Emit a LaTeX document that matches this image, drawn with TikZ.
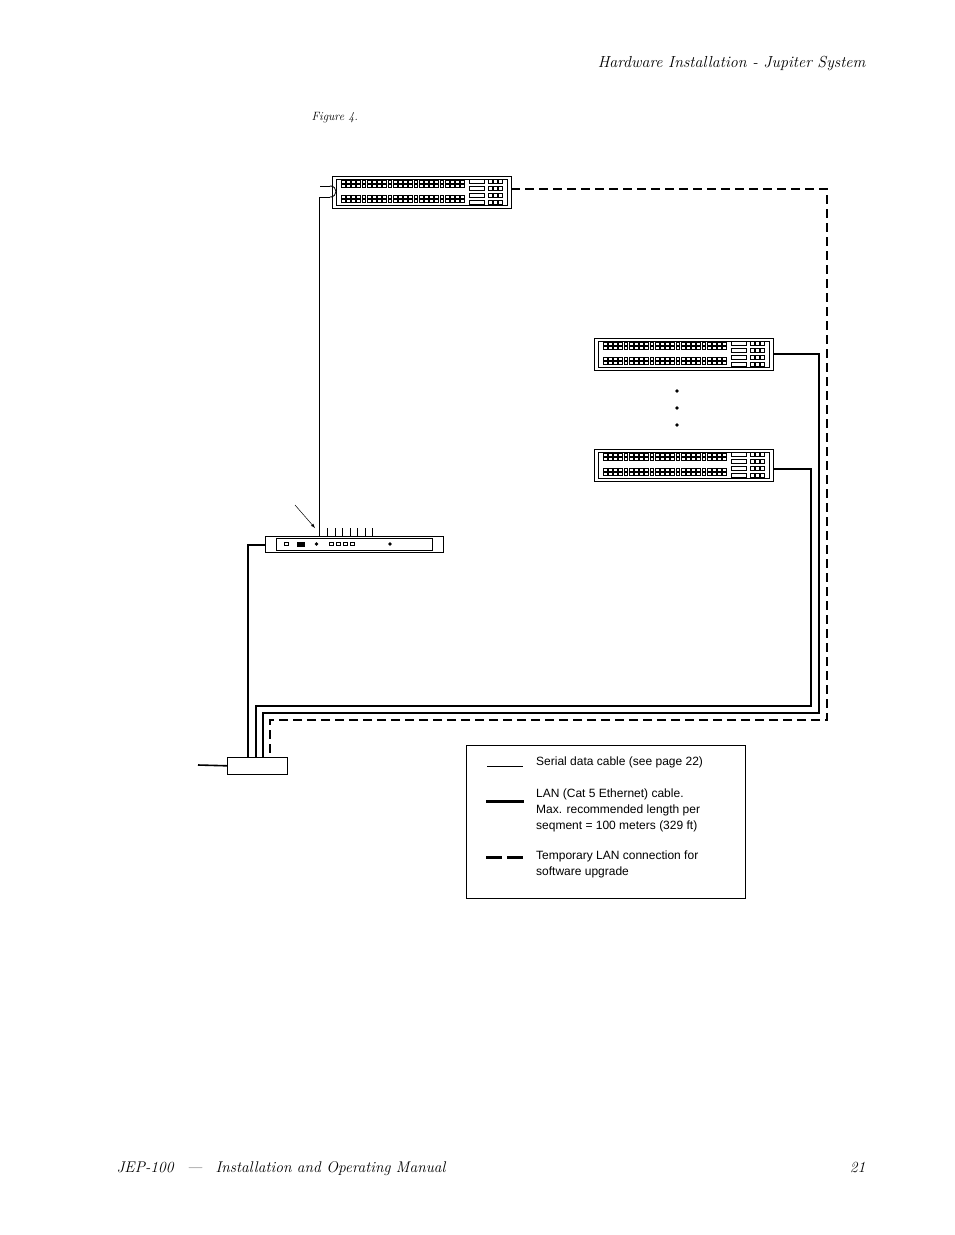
\documentclass[tikz,border=0pt]{standalone}
\usepackage{fontspec}
\newfontfamily\legendfont{Liberation Sans}
\usetikzlibrary{calc}
\tikzset{
  serial/.style={line width=0.8pt},
  lan/.style={line width=2.4pt},
  templan/.style={line width=2.4pt,dash pattern=on 9pt off 5pt},
  unit/.style={draw,line width=0.6pt,inner sep=0pt,anchor=north west},
  legtext/.style={anchor=north west,align=left,font=\legendfont\fontsize{12}{16}\selectfont,inner sep=0pt},
  pics/panel/.style={code={
    \draw[line width=0.6pt] (0,0) rectangle (179,32);
    \draw[line width=0.3pt] (4,3) rectangle (175,29);
    \foreach \yy in {4,8,19,23}
      \foreach \i in {0,...,23}
        \draw[line width=0.25pt] ({9+\i*5.2},\yy) rectangle ++(3.8,3.2);
    \foreach \yy in {3,10,17,24}{
      \draw[line width=0.4pt] (137,\yy) rectangle ++(15,4.5);
      \foreach \i in {0,1,2}
        \draw[line width=0.25pt] ({156+\i*5},{\yy+0.5}) rectangle ++(4,3.5);
    }
  }}
}
\begin{document}
\begin{tikzpicture}[x=1pt,y=-1pt]
\useasboundingbox[fill=white] (0,0) rectangle (954,1235);
% page header and footer
\node[anchor=base east,font=\itshape\fontsize{16}{19}\selectfont] (head) at (869,67) {Hardware Installation - Jupiter System};
\node[anchor=base west,font=\itshape\fontsize{12}{14}\selectfont] (fig) at (308,120) {Figure 4.};
\node[anchor=base west,font=\itshape\fontsize{15.5}{18}\selectfont] (foot) at (113,1172) {JEP-100 \enspace--- \enspace Installation and Operating Manual};
\node[anchor=base east,font=\itshape\fontsize{15.5}{18}\selectfont] (page) at (869,1172) {21};

% control panels
\pic at (332,176) {panel};
\pic at (594,338) {panel};
\pic at (594,449) {panel};
\coordinate (p1) at (511,189);
\coordinate (p2) at (773,354);
\coordinate (p3) at (773,469);
\foreach \yy in {391,408,425}
  \fill (677,\yy) circle (1.8);

% controller unit
\draw[line width=0.6pt] (265,536) rectangle (443,552);
\draw[line width=0.5pt] (276,538) rectangle (432,550);
\foreach \xx in {319,327,335,342,350,357,365,372}
  \draw[line width=0.5pt] (\xx,528) -- (\xx,536);
\fill (316.5,544) circle (1.8);
\fill (390,544) circle (1.8);
\foreach \xx in {329,336,343,350}
  \draw[line width=0.4pt] (\xx,542.5) rectangle ++(4,3);
\draw[line width=0.4pt] (284,542.5) rectangle ++(4,3);
\fill (297,541.5) rectangle ++(8,5);
\coordinate (ctl) at (265,545);
\coordinate (ctltop) at (319,528);
\draw[-latex,line width=0.5pt] (295,505) -- (315,528);

% hub box
\node[unit,minimum width=60pt,minimum height=17pt] (hub) at (227,757) {};
\draw[lan,line width=1.6pt] (198,765) -- (hub.west);

% cables
\draw[serial] (332,186) -- (330,186) .. controls (338,186) and (338,197) .. (330,197) -- (332,197);
\draw[serial] (330,186) -- (320,186);
\draw[serial] (319,197) -- (330,197);
\draw[serial] (319,197) -- (ctltop);
\draw[lan] (ctl) -- (248,545) -- (248,757);
\draw[lan] (p3) -- (811,469) -- (811,706) -- (256,706) -- (256,757);
\draw[lan] (p2) -- (819,354) -- (819,713) -- (263,713) -- (263,757);
\draw[templan] (p1) -- (827,189) -- (827,720) -- (270,720) -- (270,757);

% legend
\draw[line width=0.6pt] (466,745) rectangle (745,898);
\draw[serial] (487,766) -- (523,766);
\draw[lan,line width=3pt] (486,801) -- (524,801);
\draw[templan,line width=3pt,dash pattern=on 16pt off 5pt] (486,857) -- (524,857);
\node[legtext] (l1) at (536,757) {Serial data cable (see page 22)};
\node[legtext] (l2) at (536,789) {LAN (Cat 5 Ethernet) cable.\\Max. recommended length per\\seqment = 100 meters (329 ft)};
\node[legtext] (l3) at (536,851) {Temporary LAN connection for\\software upgrade};
\end{tikzpicture}
\end{document}
